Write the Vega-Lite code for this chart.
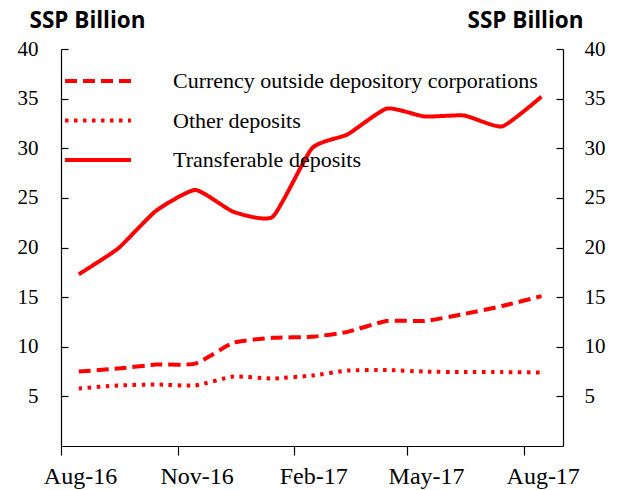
{
  "$schema": "https://vega.github.io/schema/vega-lite/v6.json",
  "width": 502,
  "height": 397,
  "autosize": {"type": "none"},
  "padding": {"left": 61, "top": 49, "right": 55, "bottom": 44},
  "background": "white",
  "config": {
    "view": {"stroke": null},
    "axis": {"grid": false, "domainColor": "black", "tickColor": "black", "labelColor": "black", "labelFont": "Liberation Serif", "domainWidth": 1.2, "tickWidth": 1.2}
  },
  "data": {"values": [
    {"date": "2016-08-15", "series": "Currency outside depository corporations", "value": 7.5},
    {"date": "2016-09-15", "series": "Currency outside depository corporations", "value": 7.8},
    {"date": "2016-10-15", "series": "Currency outside depository corporations", "value": 8.2},
    {"date": "2016-11-15", "series": "Currency outside depository corporations", "value": 8.3},
    {"date": "2016-12-15", "series": "Currency outside depository corporations", "value": 10.4},
    {"date": "2017-01-15", "series": "Currency outside depository corporations", "value": 10.9},
    {"date": "2017-02-15", "series": "Currency outside depository corporations", "value": 11.0},
    {"date": "2017-03-15", "series": "Currency outside depository corporations", "value": 11.5},
    {"date": "2017-04-15", "series": "Currency outside depository corporations", "value": 12.6},
    {"date": "2017-05-15", "series": "Currency outside depository corporations", "value": 12.6},
    {"date": "2017-06-15", "series": "Currency outside depository corporations", "value": 13.3},
    {"date": "2017-07-15", "series": "Currency outside depository corporations", "value": 14.1},
    {"date": "2017-08-15", "series": "Currency outside depository corporations", "value": 15.1},
    {"date": "2016-08-15", "series": "Other deposits", "value": 5.8},
    {"date": "2016-09-15", "series": "Other deposits", "value": 6.1},
    {"date": "2016-10-15", "series": "Other deposits", "value": 6.2},
    {"date": "2016-11-15", "series": "Other deposits", "value": 6.1},
    {"date": "2016-12-15", "series": "Other deposits", "value": 7.0},
    {"date": "2017-01-15", "series": "Other deposits", "value": 6.8},
    {"date": "2017-02-15", "series": "Other deposits", "value": 7.1},
    {"date": "2017-03-15", "series": "Other deposits", "value": 7.6},
    {"date": "2017-04-15", "series": "Other deposits", "value": 7.65},
    {"date": "2017-05-15", "series": "Other deposits", "value": 7.5},
    {"date": "2017-06-15", "series": "Other deposits", "value": 7.45},
    {"date": "2017-07-15", "series": "Other deposits", "value": 7.45},
    {"date": "2017-08-15", "series": "Other deposits", "value": 7.4},
    {"date": "2016-08-15", "series": "Transferable deposits", "value": 17.3},
    {"date": "2016-09-15", "series": "Transferable deposits", "value": 19.9},
    {"date": "2016-10-15", "series": "Transferable deposits", "value": 23.7},
    {"date": "2016-11-15", "series": "Transferable deposits", "value": 25.8},
    {"date": "2016-12-15", "series": "Transferable deposits", "value": 23.6},
    {"date": "2017-01-15", "series": "Transferable deposits", "value": 23.1},
    {"date": "2017-02-15", "series": "Transferable deposits", "value": 30.0},
    {"date": "2017-03-15", "series": "Transferable deposits", "value": 31.4},
    {"date": "2017-04-15", "series": "Transferable deposits", "value": 34.0},
    {"date": "2017-05-15", "series": "Transferable deposits", "value": 33.2},
    {"date": "2017-06-15", "series": "Transferable deposits", "value": 33.3},
    {"date": "2017-07-15", "series": "Transferable deposits", "value": 32.2},
    {"date": "2017-08-15", "series": "Transferable deposits", "value": 35.2}
  ]},
  "encoding": {
    "x": {
      "field": "date", "type": "temporal",
      "scale": {"type": "utc", "domain": ["2016-08-01", "2017-09-01"], "nice": false},
      "axis": {
        "title": null,
        "values": ["2016-08-01", "2016-11-01", "2017-02-01", "2017-05-01", "2017-08-01"],
        "labelExpr": "utcFormat(datum.value, '%b-%y')",
        "labelFontSize": 24, "tickSize": 9, "labelPadding": 9, "labelFlush": false, "labelOffset": 19
      }
    }
  },
  "layer": [
    {
      "mark": {"type": "line", "color": "#FF0000", "strokeWidth": 4, "interpolate": "cardinal", "tension": 0.5, "strokeCap": "butt"},
      "encoding": {
        "y": {
          "field": "value", "type": "quantitative",
          "scale": {"domain": [0, 40], "nice": false},
          "axis": {
            "orient": "left", "values": [5, 10, 15, 20, 25, 30, 35, 40],
            "labelFontSize": 21, "tickSize": -7, "labelPadding": 30,
            "title": "SSP Billion", "titleAngle": 0, "titleAlign": "left", "titleBaseline": "alphabetic",
            "titleX": -32, "titleY": -22, "titleFont": "Open Sans", "titleFontSize": 22.5, "titleFontWeight": "bold", "titleColor": "black"
          }
        },
        "strokeDash": {
          "field": "series", "type": "nominal",
          "scale": {
            "domain": ["Currency outside depository corporations", "Other deposits", "Transferable deposits"],
            "range": [[12, 6], [3.5, 5.5], [1, 0]]
          },
          "legend": {
            "title": null, "orient": "none", "legendX": 24, "legendY": 19,
            "symbolType": "M-3,0H3", "symbolSize": 484, "symbolStrokeWidth": 4, "symbolStrokeColor": "#FF0000", "symbolFillColor": "transparent",
            "labelFont": "Liberation Serif", "labelFontSize": 22, "labelColor": "black", "labelOffset": 62,
            "rowPadding": 15.5, "labelLimit": 500
          }
        }
      }
    },
    {
      "mark": {"type": "line", "strokeOpacity": 0},
      "encoding": {
        "y": {
          "field": "value", "type": "quantitative",
          "scale": {"domain": [0, 40], "nice": false},
          "axis": {
            "orient": "right", "values": [5, 10, 15, 20, 25, 30, 35, 40],
            "labelFontSize": 21, "tickSize": -7, "labelPadding": 28,
            "title": "SSP Billion", "titleAngle": 0, "titleAlign": "left", "titleBaseline": "alphabetic",
            "titleX": -96, "titleY": -22, "titleFont": "Open Sans", "titleFontSize": 22.5, "titleFontWeight": "bold", "titleColor": "black"
          }
        },
        "detail": {"field": "series", "type": "nominal"}
      }
    }
  ],
  "resolve": {"axis": {"y": "independent"}}
}
